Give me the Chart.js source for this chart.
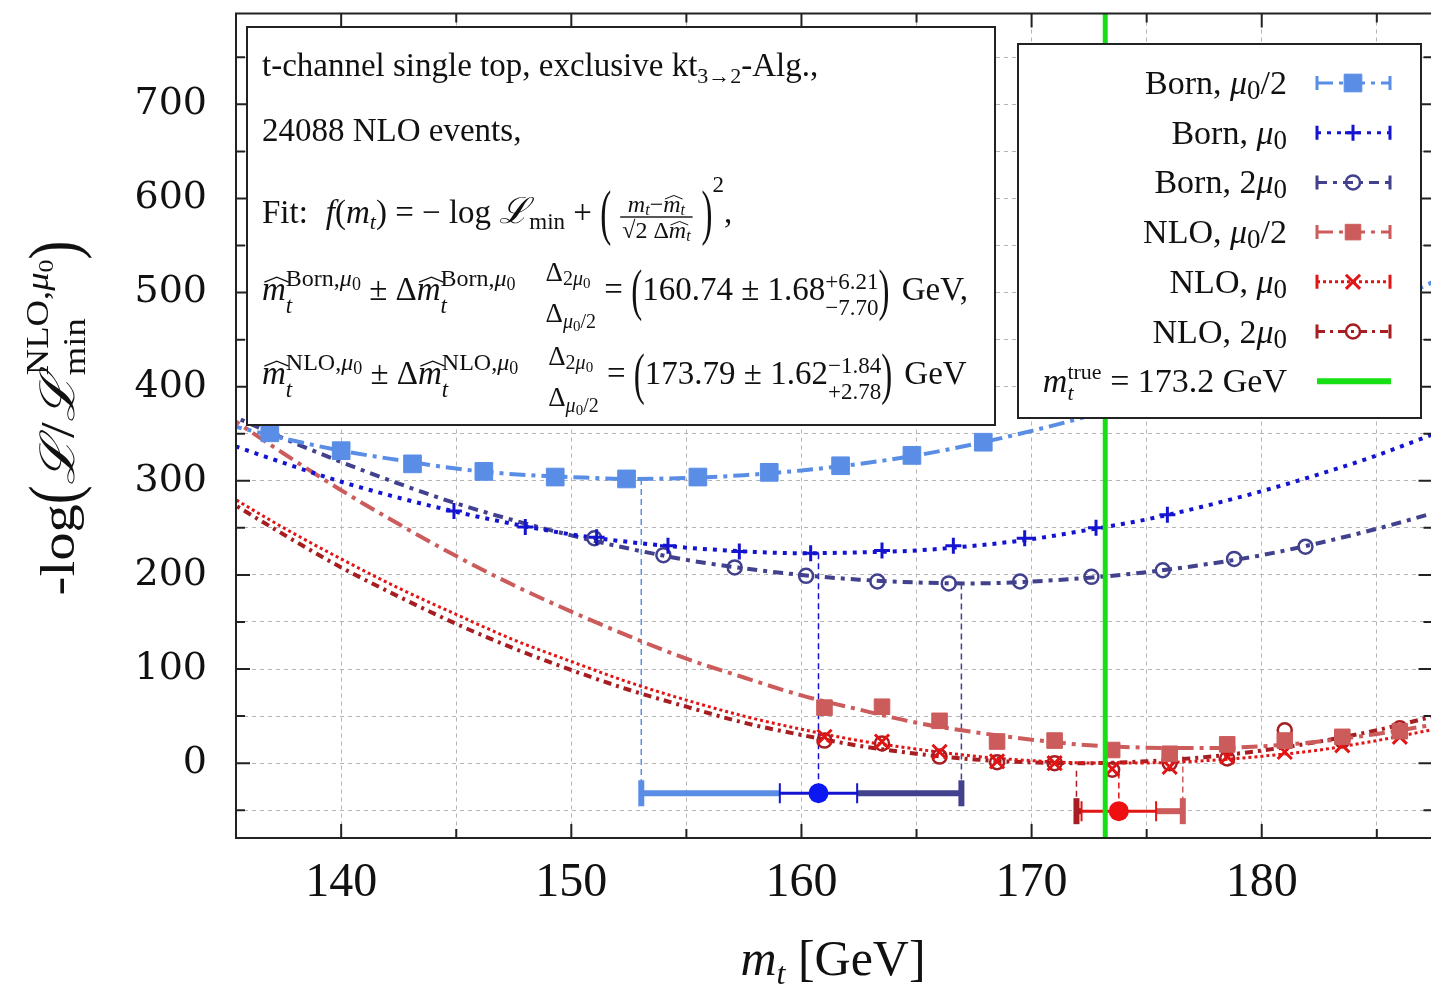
<!DOCTYPE html>
<html>
<head>
<meta charset="utf-8">
<title>t-channel single top: m_t likelihood scan</title>
<script src="https://cdn.jsdelivr.net/npm/chart.js@4.4.1/dist/chart.umd.min.js"></script>
<style>
  html, body { margin: 0; padding: 0; overflow: hidden; background: #fff; }
  canvas { display: block; }
</style>
</head>
<body>
<!-- a bit wider than the window: the right edge of the frame falls just outside the picture -->
<canvas id="scan" width="1446" height="994"></canvas>
<script>
// axis ranges
const X_MIN = 135.43, X_MAX = 187.42;
const Y_MIN = -79.5, Y_MAX = 796.5;

// grid / tick positions and labelled ticks
const xGrid = [140, 145, 150, 155, 160, 165, 170, 175, 180, 185];
const xTickLabels = [140, 150, 160, 170, 180];
const yGrid = [-50, 0, 50, 100, 150, 200, 250, 300, 350, 400, 450, 500, 550, 600, 650, 700, 750];
const yTickLabels = [0, 100, 200, 300, 400, 500, 600, 700];

// scan points
const bornHalfMass = [136.9, 140.0, 143.1, 146.2, 149.3, 152.4, 155.5, 158.6, 161.7, 164.8, 167.9];
const bornHalfVal  = [351, 332, 318, 310, 304, 302, 304, 309, 316, 327, 341];
const bornMass = [144.9, 148.0, 151.1, 154.2, 157.3, 160.4, 163.5, 166.6, 169.7, 172.8, 175.9];
const bornVal  = [268, 251, 240, 231, 225, 223, 226, 231, 239, 250, 264];
const born2Mass = [151.0, 154.0, 157.1, 160.2, 163.3, 166.4, 169.5, 172.6, 175.7, 178.8, 181.9];
const born2Val  = [239, 221, 208, 199, 193, 191, 193, 198, 205, 217, 230];
const nloMass    = [161.0, 163.5, 166.0, 168.5, 171.0, 173.5, 176.0, 178.5, 181.0, 183.5, 186.0];
const nloHalfVal = [59, 60, 45, 23, 24, 14, 10, 20, 24, 28, 34];
const nloVal     = [28, 23, 12, 2, 0, -6, -4, 7, 12, 19, 28];
const nlo2Val    = [24, 21, 7, 1, 0, -7, 0, 5, 35, 24, 37];

// fitted parabolas, every 2.5 GeV
const curveMass = [135, 137.5, 140, 142.5, 145, 147.5, 150, 152.5, 155, 157.5, 160, 162.5,
                   165, 167.5, 170, 172.5, 175, 177.5, 180, 182.5, 185, 187.5];
const bornHalfCurve = [360, 345, 332, 322, 313, 307, 304, 302, 303, 306, 311, 318,
                       327, 339, 353, 369, 387, 408, 431, 456, 483, 512];
const bornCurve  = [340, 319, 299, 282, 267, 254, 243, 235, 229, 225, 223, 224,
                    226, 231, 238, 248, 259, 273, 289, 307, 327, 350];
const born2Curve = [372, 345, 320, 297, 276, 258, 242, 228, 216, 207, 200, 195,
                    192, 191, 193, 197, 203, 211, 221, 234, 249, 266];
const nloHalfCurve = [370, 329, 290, 254, 220, 189, 161, 135, 111, 91, 72, 57,
                      43, 33, 25, 19, 16.5, 16, 18, 23, 31, 41];
const nloCurve  = [286, 250, 217, 186, 158, 131, 108, 86, 67, 50, 36, 24,
                   15, 7.5, 2.7, 0.3, 0.3, 2.6, 7.3, 14, 24, 36];
const nlo2Curve = [280, 243, 208, 177, 148, 122, 99, 78, 60, 43, 30, 18.5,
                   10, 4, 0.8, 0, 2, 6.4, 13.4, 23, 35, 50];

// fit results (from the text box): Born row and NLO row
const resultRowY    = [-32, -51];
const resultCentral = [160.74, 173.79];
const resultStat    = [1.68, 1.62];
const resultLow     = [153.04, 171.95];   // lower end of scale variation
const resultHigh    = [166.95, 176.57];   // upper end of scale variation
// minima of the six fits, where the dashed drop lines start
const dropMass = [153.04, 160.74, 166.95, 171.95, 173.79, 176.57];
const dropTop  = [302, 223, 191, -8, -10, 7];

const mTrue = 173.2;

const C = {
  bornHalf: '#5a8ee6', born: '#1414d0', born2: '#41418e',
  nloHalf: '#cc5b5b', nlo: '#e21414', nlo2: '#a61d22', truth: '#14e014'
};
const dropColors = [C.bornHalf, C.born, C.born2, C.nlo2, C.nlo, C.nloHalf];
const lowColors  = [C.bornHalf, C.nlo2];
const highColors = [C.born2, C.nloHalf];
const statColors = [C.born, C.nlo];
const dotColors  = ['#0b18f2', '#ee1010'];

function points(xs, ys) { return xs.map((m, i) => ({x: m, y: ys[i]})); }

function markers(xs, ys, color, style, r, filled, bw) {
  return {
    type: 'scatter', data: points(xs, ys), showLine: false,
    pointStyle: style, pointRadius: r, pointHoverRadius: r,
    pointBackgroundColor: filled ? color : 'rgba(0,0,0,0)',
    pointBorderColor: color, pointBorderWidth: bw, order: 1
  };
}
function curve(ys, color, dash, w) {
  return {
    type: 'line', data: points(curveMass, ys), borderColor: color, borderWidth: w,
    borderDash: dash, pointRadius: 0, cubicInterpolationMode: 'monotone', fill: false, order: 2
  };
}

const datasets = [
  curve(bornHalfCurve, C.bornHalf, [16, 6, 4, 6], 4),
  curve(bornCurve, C.born, [4, 6], 4),
  curve(born2Curve, C.born2, [10, 6, 4, 6], 4),
  curve(nloHalfCurve, C.nloHalf, [16, 6, 4, 6], 4),
  curve(nloCurve, C.nlo, [3, 3], 3),
  curve(nlo2Curve, C.nlo2, [8, 5, 3, 5], 4),
  markers(bornHalfMass, bornHalfVal, C.bornHalf, 'rect', 12.5, true, 1),
  markers(bornMass, bornVal, C.born, 'cross', 8, false, 3),
  markers(born2Mass, born2Val, C.born2, 'circle', 7, false, 2.5),
  markers(nloMass, nloHalfVal, C.nloHalf, 'rect', 11, true, 1),
  markers(nloMass, nloVal, C.nlo, 'crossRot', 10, false, 3),
  markers(nloMass, nlo2Val, C.nlo2, 'circle', 7, false, 2.5),
  {
    type: 'line', data: [{x: mTrue, y: Y_MIN}, {x: mTrue, y: Y_MAX}],
    borderColor: C.truth, borderWidth: 5, pointRadius: 0, order: 0
  }
];

// ---------- little rich-text helper for the math labels ----------
const SERIF = '"Liberation Serif", "Times New Roman", serif';
function font(size, italic) { return (italic ? 'italic ' : '') + size + 'px ' + SERIF; }
const R = (t, s, dy) => ({t, s, dy: dy || 0});
const I = (t, s, dy) => ({t, s, i: true, dy: dy || 0});
const HAT = {hat: true};

function drawRuns(ctx, x, y, list, draw) {
  let last = null;
  list.forEach(r => {
    if (r.gap) { x += r.gap; return; }
    if (r.hat) {
      if (draw && last) {
        const w = last.x1 - last.x0;
        const base = y + last.dy - last.s * 0.54;
        ctx.save();
        ctx.lineWidth = Math.max(1, last.s / 24);
        ctx.strokeStyle = ctx.fillStyle;
        ctx.beginPath();
        ctx.moveTo(last.x0 + w * 0.1, base);
        ctx.lineTo(last.x0 + w * 0.62, base - last.s * 0.15);
        ctx.lineTo(last.x0 + w * 1.12, base);
        ctx.stroke();
        ctx.restore();
      }
      return;
    }
    if (r.ss) {
      const a = drawRuns(ctx, x, y, r.ss[0], draw);
      const b = drawRuns(ctx, x, y, r.ss[1], draw);
      x = Math.max(a, b);
      return;
    }
    if (r.paren) {
      ctx.font = font(r.s, false);
      const w = ctx.measureText(r.paren).width;
      if (draw) {
        ctx.save();
        ctx.translate(x, y + r.cy);
        ctx.scale(1, r.k);
        ctx.fillText(r.paren, 0, r.s * 0.26);
        ctx.restore();
      }
      x += w;
      return;
    }
    if (r.frac) {
      const wn = drawRuns(ctx, 0, 0, r.frac[0], false);
      const wd = drawRuns(ctx, 0, 0, r.frac[1], false);
      const w = Math.max(wn, wd) + 6;
      if (draw) {
        drawRuns(ctx, x + (w - wn) / 2, y + r.bar - 5, r.frac[0], true);
        drawRuns(ctx, x + (w - wd) / 2, y + r.bar + 21, r.frac[1], true);
        ctx.fillRect(x + 1, y + r.bar - 0.7, w - 2, 1.4);
      }
      x += w;
      return;
    }
    ctx.font = font(r.s, r.i);
    const w = ctx.measureText(r.t).width;
    if (draw) ctx.fillText(r.t, x, y + r.dy);
    last = {x0: x, x1: x + w, s: r.s, dy: r.dy};
    x += w;
  });
  return x;
}

// text box lines
const supBorn = [R('Born,', 24, -14), I('μ', 24, -14), R('0', 18, -10)];
const supNlo  = [R('NLO,', 24, -14), I('μ', 24, -14), R('0', 18, -10)];
const deltas = {ss: [
  [R('Δ', 27, -19), R('2', 20, -15), I('μ', 20, -15), R('0', 15, -12)],
  [R('Δ', 27, 22), I('μ', 20, 28), R('0', 15, 31), R('/2', 20, 28)]
]};
const boxLines = [
  {y: 76, runs: [R('t-channel single top, exclusive kt', 33), R('3→2', 22, 7), R('-Alg.,', 33)]},
  {y: 141, runs: [R('24088 NLO events,', 33)]},
  {y: 223, runs: [
    R('Fit:', 33), {gap: 18}, I('f', 33), R('(', 33), I('m', 33), I('t', 22, 6), R(')', 33),
    R(' = − log ', 33), I('ℒ', 36), R('min', 23, 6), R(' + ', 33),
    {paren: '(', s: 33, k: 1.85, cy: -6}, {gap: 8},
    {frac: [[I('m', 24), I('t', 16, 3), R('−', 24), I('m', 24), HAT, I('t', 16, 3)],
            [R('√2 Δ', 24), I('m', 24), HAT, I('t', 16, 3)]], bar: -6},
    {gap: 8}, {paren: ')', s: 33, k: 1.85, cy: -6}, R('2', 23, -31), R(',', 33)
  ]},
  {y: 300, runs: [
    I('m', 33), HAT, {ss: [[I('t', 23, 13)], supBorn]}, R(' ± Δ', 33), I('m', 33), HAT,
    {ss: [[I('t', 23, 13)], supBorn]}, {gap: 30}, deltas, R(' = ', 33),
    {paren: '(', s: 33, k: 1.7, cy: -6}, R('160.74 ± 1.68', 33),
    {ss: [[R('−7.70', 23, 15)], [R('+6.21', 23, -11)]]},
    {paren: ')', s: 33, k: 1.7, cy: -6}, {gap: 4}, R(' GeV,', 33)
  ]},
  {y: 384, runs: [
    I('m', 33), HAT, {ss: [[I('t', 23, 13)], supNlo]}, R(' ± Δ', 33), I('m', 33), HAT,
    {ss: [[I('t', 23, 13)], supNlo]}, {gap: 30}, deltas, R(' = ', 33),
    {paren: '(', s: 33, k: 1.7, cy: -6}, R('173.79 ± 1.62', 33),
    {ss: [[R('+2.78', 23, 15)], [R('−1.84', 23, -11)]]},
    {paren: ')', s: 33, k: 1.7, cy: -6}, {gap: 4}, R(' GeV', 33)
  ]}
];

// legend rows: label runs + which datasets give the sample style
const legendRows = [
  {runs: [R('Born, ', 34), I('μ', 34), R('0', 27, 5), R('/2', 34)], line: 0, mark: 6},
  {runs: [R('Born, ', 34), I('μ', 34), R('0', 27, 5)], line: 1, mark: 7},
  {runs: [R('Born, 2', 34), I('μ', 34), R('0', 27, 5)], line: 2, mark: 8},
  {runs: [R('NLO, ', 34), I('μ', 34), R('0', 27, 5), R('/2', 34)], line: 3, mark: 9},
  {runs: [R('NLO, ', 34), I('μ', 34), R('0', 27, 5)], line: 4, mark: 10},
  {runs: [R('NLO, 2', 34), I('μ', 34), R('0', 27, 5)], line: 5, mark: 11},
  {runs: [I('m', 34), {ss: [[I('t', 22, 8)], [R('true', 22, -13)]]}, R(' = 173.2 GeV', 34)], line: 12, mark: null}
];

function marker(ctx, style, r, x, y) {
  ctx.beginPath();
  if (style === 'rect') {
    const h = r * Math.SQRT1_2;
    ctx.rect(x - h, y - h, 2 * h, 2 * h); ctx.fill(); ctx.stroke();
  } else if (style === 'circle') {
    ctx.arc(x, y, r, 0, Math.PI * 2); ctx.stroke();
  } else if (style === 'cross') {
    ctx.moveTo(x - r, y); ctx.lineTo(x + r, y); ctx.moveTo(x, y - r); ctx.lineTo(x, y + r); ctx.stroke();
  } else if (style === 'crossRot') {
    const h = r * Math.SQRT1_2;
    ctx.moveTo(x - h, y - h); ctx.lineTo(x + h, y + h); ctx.moveTo(x - h, y + h); ctx.lineTo(x + h, y - h); ctx.stroke();
  }
}

const decorations = {
  id: 'decorations',
  beforeDatasetsDraw(chart) {
    const {ctx, scales: {x, y}} = chart;
    ctx.save();
    // dashed drop lines from the fit minima to the result bars
    ctx.lineWidth = 1.5;
    ctx.setLineDash([6, 4]);
    dropMass.forEach((m, i) => {
      const px = x.getPixelForValue(m);
      ctx.strokeStyle = dropColors[i];
      ctx.beginPath();
      ctx.moveTo(px, y.getPixelForValue(dropTop[i]));
      ctx.lineTo(px, y.getPixelForValue(resultRowY[i < 3 ? 0 : 1]));
      ctx.stroke();
    });
    ctx.setLineDash([]);
    // result bars: scale variation (thick) + statistical error (thin)
    resultRowY.forEach((row, i) => {
      const py = y.getPixelForValue(row);
      const lo = x.getPixelForValue(resultLow[i]);
      const hi = x.getPixelForValue(resultHigh[i]);
      const sLo = x.getPixelForValue(resultCentral[i] - resultStat[i]);
      const sHi = x.getPixelForValue(resultCentral[i] + resultStat[i]);
      const c = x.getPixelForValue(resultCentral[i]);
      ctx.lineWidth = 6;
      ctx.strokeStyle = lowColors[i];
      ctx.beginPath(); ctx.moveTo(lo, py); ctx.lineTo(sLo, py); ctx.stroke();
      ctx.fillStyle = lowColors[i];
      ctx.fillRect(lo - 3, py - 13, 6, 26);
      ctx.strokeStyle = highColors[i];
      ctx.beginPath(); ctx.moveTo(sHi, py); ctx.lineTo(hi, py); ctx.stroke();
      ctx.fillStyle = highColors[i];
      ctx.fillRect(hi - 3, py - 13, 6, 26);
      ctx.lineWidth = 3;
      ctx.strokeStyle = statColors[i];
      ctx.beginPath(); ctx.moveTo(sLo, py); ctx.lineTo(sHi, py); ctx.stroke();
      ctx.lineWidth = 2;
      ctx.beginPath();
      ctx.moveTo(sLo, py - 10); ctx.lineTo(sLo, py + 10);
      ctx.moveTo(sHi, py - 10); ctx.lineTo(sHi, py + 10);
      ctx.stroke();
      ctx.fillStyle = dotColors[i];
      ctx.beginPath(); ctx.arc(c, py, 10, 0, Math.PI * 2); ctx.fill();
    });
    ctx.restore();
  },
  afterDatasetsDraw(chart) {
    const {ctx, chartArea: a, scales: {x, y}} = chart;
    ctx.save();
    // frame and inward ticks on all four sides
    ctx.strokeStyle = '#222';
    ctx.lineWidth = 2;
    ctx.strokeRect(a.left, a.top, a.right - a.left, a.bottom - a.top);
    ctx.beginPath();
    xGrid.forEach(v => {
      const px = x.getPixelForValue(v), len = xTickLabels.includes(v) ? 14 : 9;
      ctx.moveTo(px, a.bottom); ctx.lineTo(px, a.bottom - len);
      ctx.moveTo(px, a.top); ctx.lineTo(px, a.top + len);
    });
    yGrid.forEach(v => {
      const py = y.getPixelForValue(v), len = yTickLabels.includes(v) ? 14 : 9;
      ctx.moveTo(a.left, py); ctx.lineTo(a.left + len, py);
      ctx.moveTo(a.right, py); ctx.lineTo(a.right - len, py);
    });
    ctx.stroke();

    // info box
    ctx.fillStyle = '#fff';
    ctx.fillRect(247, 27, 748, 398);
    ctx.strokeRect(247, 27, 748, 398);
    ctx.fillStyle = '#111';
    ctx.textBaseline = 'alphabetic';
    boxLines.forEach(l => drawRuns(ctx, 262, l.y, l.runs, true));

    // legend box
    ctx.fillStyle = '#fff';
    ctx.fillRect(1018, 44, 403, 374);
    ctx.strokeStyle = '#222';
    ctx.strokeRect(1018, 44, 403, 374);
    const ds = chart.data.datasets;
    legendRows.forEach((row, i) => {
      const cy = 83 + i * 49.7;
      ctx.fillStyle = '#111';
      const w = drawRuns(ctx, 0, 0, row.runs, false);
      drawRuns(ctx, 1287 - w, cy + 11, row.runs, true);
      const line = ds[row.line];
      if (row.mark === null) {
        ctx.strokeStyle = line.borderColor;
        ctx.lineWidth = 6;
        ctx.setLineDash([]);
        ctx.beginPath(); ctx.moveTo(1317, cy); ctx.lineTo(1391, cy); ctx.stroke();
        return;
      }
      ctx.strokeStyle = line.borderColor;
      ctx.lineWidth = 3;
      ctx.setLineDash(line.borderDash);
      ctx.beginPath(); ctx.moveTo(1317, cy); ctx.lineTo(1391, cy); ctx.stroke();
      ctx.setLineDash([]);
      ctx.beginPath();
      ctx.moveTo(1317, cy - 7); ctx.lineTo(1317, cy + 7);
      ctx.moveTo(1390, cy - 7); ctx.lineTo(1390, cy + 7);
      ctx.stroke();
      const m = ds[row.mark];
      ctx.fillStyle = m.pointBackgroundColor;
      ctx.strokeStyle = m.pointBorderColor;
      ctx.lineWidth = m.pointBorderWidth;
      marker(ctx, m.pointStyle, m.pointRadius, 1353, cy);
    });
    ctx.restore();
  },
  afterDraw(chart) {
    const {ctx} = chart;
    ctx.save();
    ctx.fillStyle = '#111';
    ctx.textBaseline = 'alphabetic';
    // x title
    const xt = [I('m', 50), I('t', 32, 9), R(' [GeV]', 50)];
    const xw = drawRuns(ctx, 0, 0, xt, false);
    drawRuns(ctx, 833 - xw / 2, 975, xt, true);
    // y title, rotated and a little stretched along the text
    const yt = [
      R('-log', 48), {paren: '(', s: 48, k: 1.45, cy: -15}, I('ℒ', 48), R('/', 48), I('ℒ', 48),
      {ss: [[R('min', 31, 11)], [R('NLO,', 31, -26), I('μ', 31, -26), R('0', 22, -21)]]},
      {paren: ')', s: 48, k: 1.45, cy: -15}
    ];
    const yw = drawRuns(ctx, 0, 0, yt, false);
    ctx.translate(74, 418);
    ctx.rotate(-Math.PI / 2);
    ctx.scale(1.18, 1);
    drawRuns(ctx, -yw / 2, 0, yt, true);
    ctx.restore();
  }
};

// drop Chart.js' automatic label overhang padding so the plot frame sits where it should
function zeroPad(s) { s.paddingTop = 0; s.paddingBottom = 0; s.paddingLeft = 0; s.paddingRight = 0; }

new Chart(document.getElementById('scan'), {
  type: 'scatter',
  data: {datasets: datasets},
  options: {
    responsive: false,
    animation: false,
    layout: {padding: {top: 12, right: 0, left: 0, bottom: 0}},
    plugins: {legend: {display: false}, tooltip: {enabled: false}},
    scales: {
      x: {
        type: 'linear', min: X_MIN, max: X_MAX,
        afterFit: s => { s.height = 156; zeroPad(s); },
        afterBuildTicks: s => { s.ticks = xGrid.map(v => ({value: v})); },
        ticks: {
          autoSkip: false, maxRotation: 0, padding: 17, color: '#111',
          font: {family: 'Liberation Serif', size: 48},
          callback: v => xTickLabels.includes(v) ? String(v) : ''
        },
        grid: {color: '#b4b4b4', lineWidth: 1, drawTicks: false},
        border: {display: false, dash: [4, 4]}
      },
      y: {
        type: 'linear', min: Y_MIN, max: Y_MAX,
        afterFit: s => { s.width = 236; zeroPad(s); },
        afterBuildTicks: s => { s.ticks = yGrid.map(v => ({value: v})); },
        ticks: {
          autoSkip: false, padding: 29, color: '#111',
          font: {family: 'DejaVu Serif', size: 38},
          callback: v => yTickLabels.includes(v) ? String(v) : ''
        },
        grid: {color: '#b4b4b4', lineWidth: 1, drawTicks: false},
        border: {display: false, dash: [4, 4]}
      }
    }
  },
  plugins: [decorations]
});
</script>
</body>
</html>
